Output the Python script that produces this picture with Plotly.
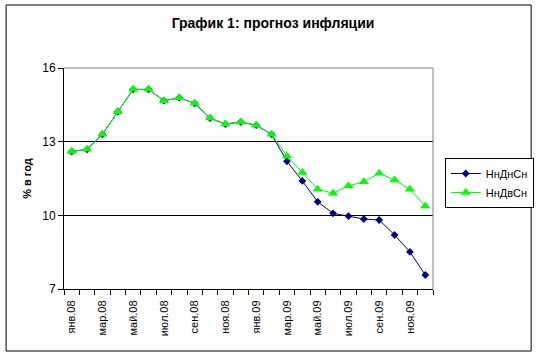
import plotly.graph_objects as go

months = ["янв.08", "фев.08", "мар.08", "апр.08", "май.08", "июн.08", "июл.08", "авг.08",
          "сен.08", "окт.08", "ноя.08", "дек.08", "янв.09", "фев.09", "мар.09", "апр.09",
          "май.09", "июн.09", "июл.09", "авг.09", "сен.09", "окт.09", "ноя.09", "дек.09"]

nndnsn = [12.6, 12.69, 13.3, 14.22, 15.13, 15.13, 14.67, 14.79, 14.56, 13.96, 13.72, 13.8,
          13.67, 13.3, 12.2, 11.4, 10.55, 10.08, 9.97, 9.85, 9.81, 9.2, 8.51, 7.57]
nndvsn = [12.6, 12.69, 13.3, 14.22, 15.13, 15.13, 14.67, 14.79, 14.56, 13.96, 13.72, 13.8,
          13.67, 13.3, 12.42, 11.74, 11.06, 10.9, 11.2, 11.37, 11.71, 11.44, 11.06, 10.38]

y_ticks = [7, 10, 13, 16]

xs = list(range(len(months)))
label_idx = xs[::2]
label_text = [months[i] for i in label_idx]

FONT = "Liberation Sans, Arial, sans-serif"

fig = go.Figure()
fig.add_trace(go.Scatter(
    x=xs, y=nndnsn, name="НнДнСн", mode="lines+markers",
    line=dict(color="#000080", width=1),
    marker=dict(symbol="diamond", size=6, color="#000080"),
))
fig.add_trace(go.Scatter(
    x=xs, y=nndvsn, name="НнДвСн", mode="lines+markers",
    line=dict(color="#00FF00", width=1),
    marker=dict(symbol="triangle-up", size=9, color="#00FF00"),
))

fig.update_layout(
    width=546, height=356,
    margin=dict(l=64, r=106, t=68, b=67),
    paper_bgcolor="white", plot_bgcolor="white",
    font=dict(family=FONT, color="black"),
    title=dict(text="<b>График 1: прогноз инфляции</b>", x=0.5, xanchor="center",
               y=1 - 23 / 356, yanchor="middle", font=dict(size=14, family=FONT, color="black")),
    showlegend=True,
    legend=dict(x=(452 - 64) / 376, y=(289 - 158) / 221, xanchor="left", yanchor="top",
                bordercolor="black", borderwidth=1, bgcolor="white",
                font=dict(size=11, family=FONT, color="black"),
                itemwidth=30, tracegroupgap=0),
    xaxis=dict(
        range=[-0.5, len(months) - 0.5],
        tickmode="array", tickvals=label_idx, ticktext=label_text,
        tickangle=-90, ticks="", tickfont=dict(size=11, family=FONT, color="black"),
        ticklabelstandoff=6,
        showline=True, linecolor="black", linewidth=1,
        showgrid=False, zeroline=False,
        minor=dict(tickmode="linear", tick0=-0.5, dtick=1, ticks="outside",
                   ticklen=5, tickcolor="black", tickwidth=1, showgrid=False),
    ),
    yaxis=dict(
        range=[7, 16], tickmode="array", tickvals=y_ticks,
        ticks="outside", ticklen=5, tickcolor="black",
        tickfont=dict(size=12, family=FONT, color="black"),
        showline=True, linecolor="black", linewidth=1,
        showgrid=True, gridcolor="black", gridwidth=1, zeroline=False,
        title=dict(text="<b>% в год</b>", font=dict(size=11, family=FONT, color="black"), standoff=8),
    ),
)

# plot-area border (gray top/right)
fig.add_shape(type="line", xref="paper", yref="paper", x0=0, x1=1, y0=1, y1=1,
              line=dict(color="#808080", width=1), layer="above")
fig.add_shape(type="line", xref="paper", yref="paper", x0=1, x1=1, y0=0, y1=1,
              line=dict(color="#808080", width=1), layer="above")
# outer chart border
fig.add_shape(type="rect", xref="paper", yref="paper",
              x0=(5 - 64) / 376, x1=(540 - 64) / 376,
              y0=(289 - 351) / 221, y1=(289 - 5) / 221,
              line=dict(color="black", width=1), fillcolor="rgba(0,0,0,0)", layer="below")

fig.write_html("out.html", config={"displayModeBar": False},
               post_script="document.body.style.margin='0';document.body.style.overflow='hidden';")
